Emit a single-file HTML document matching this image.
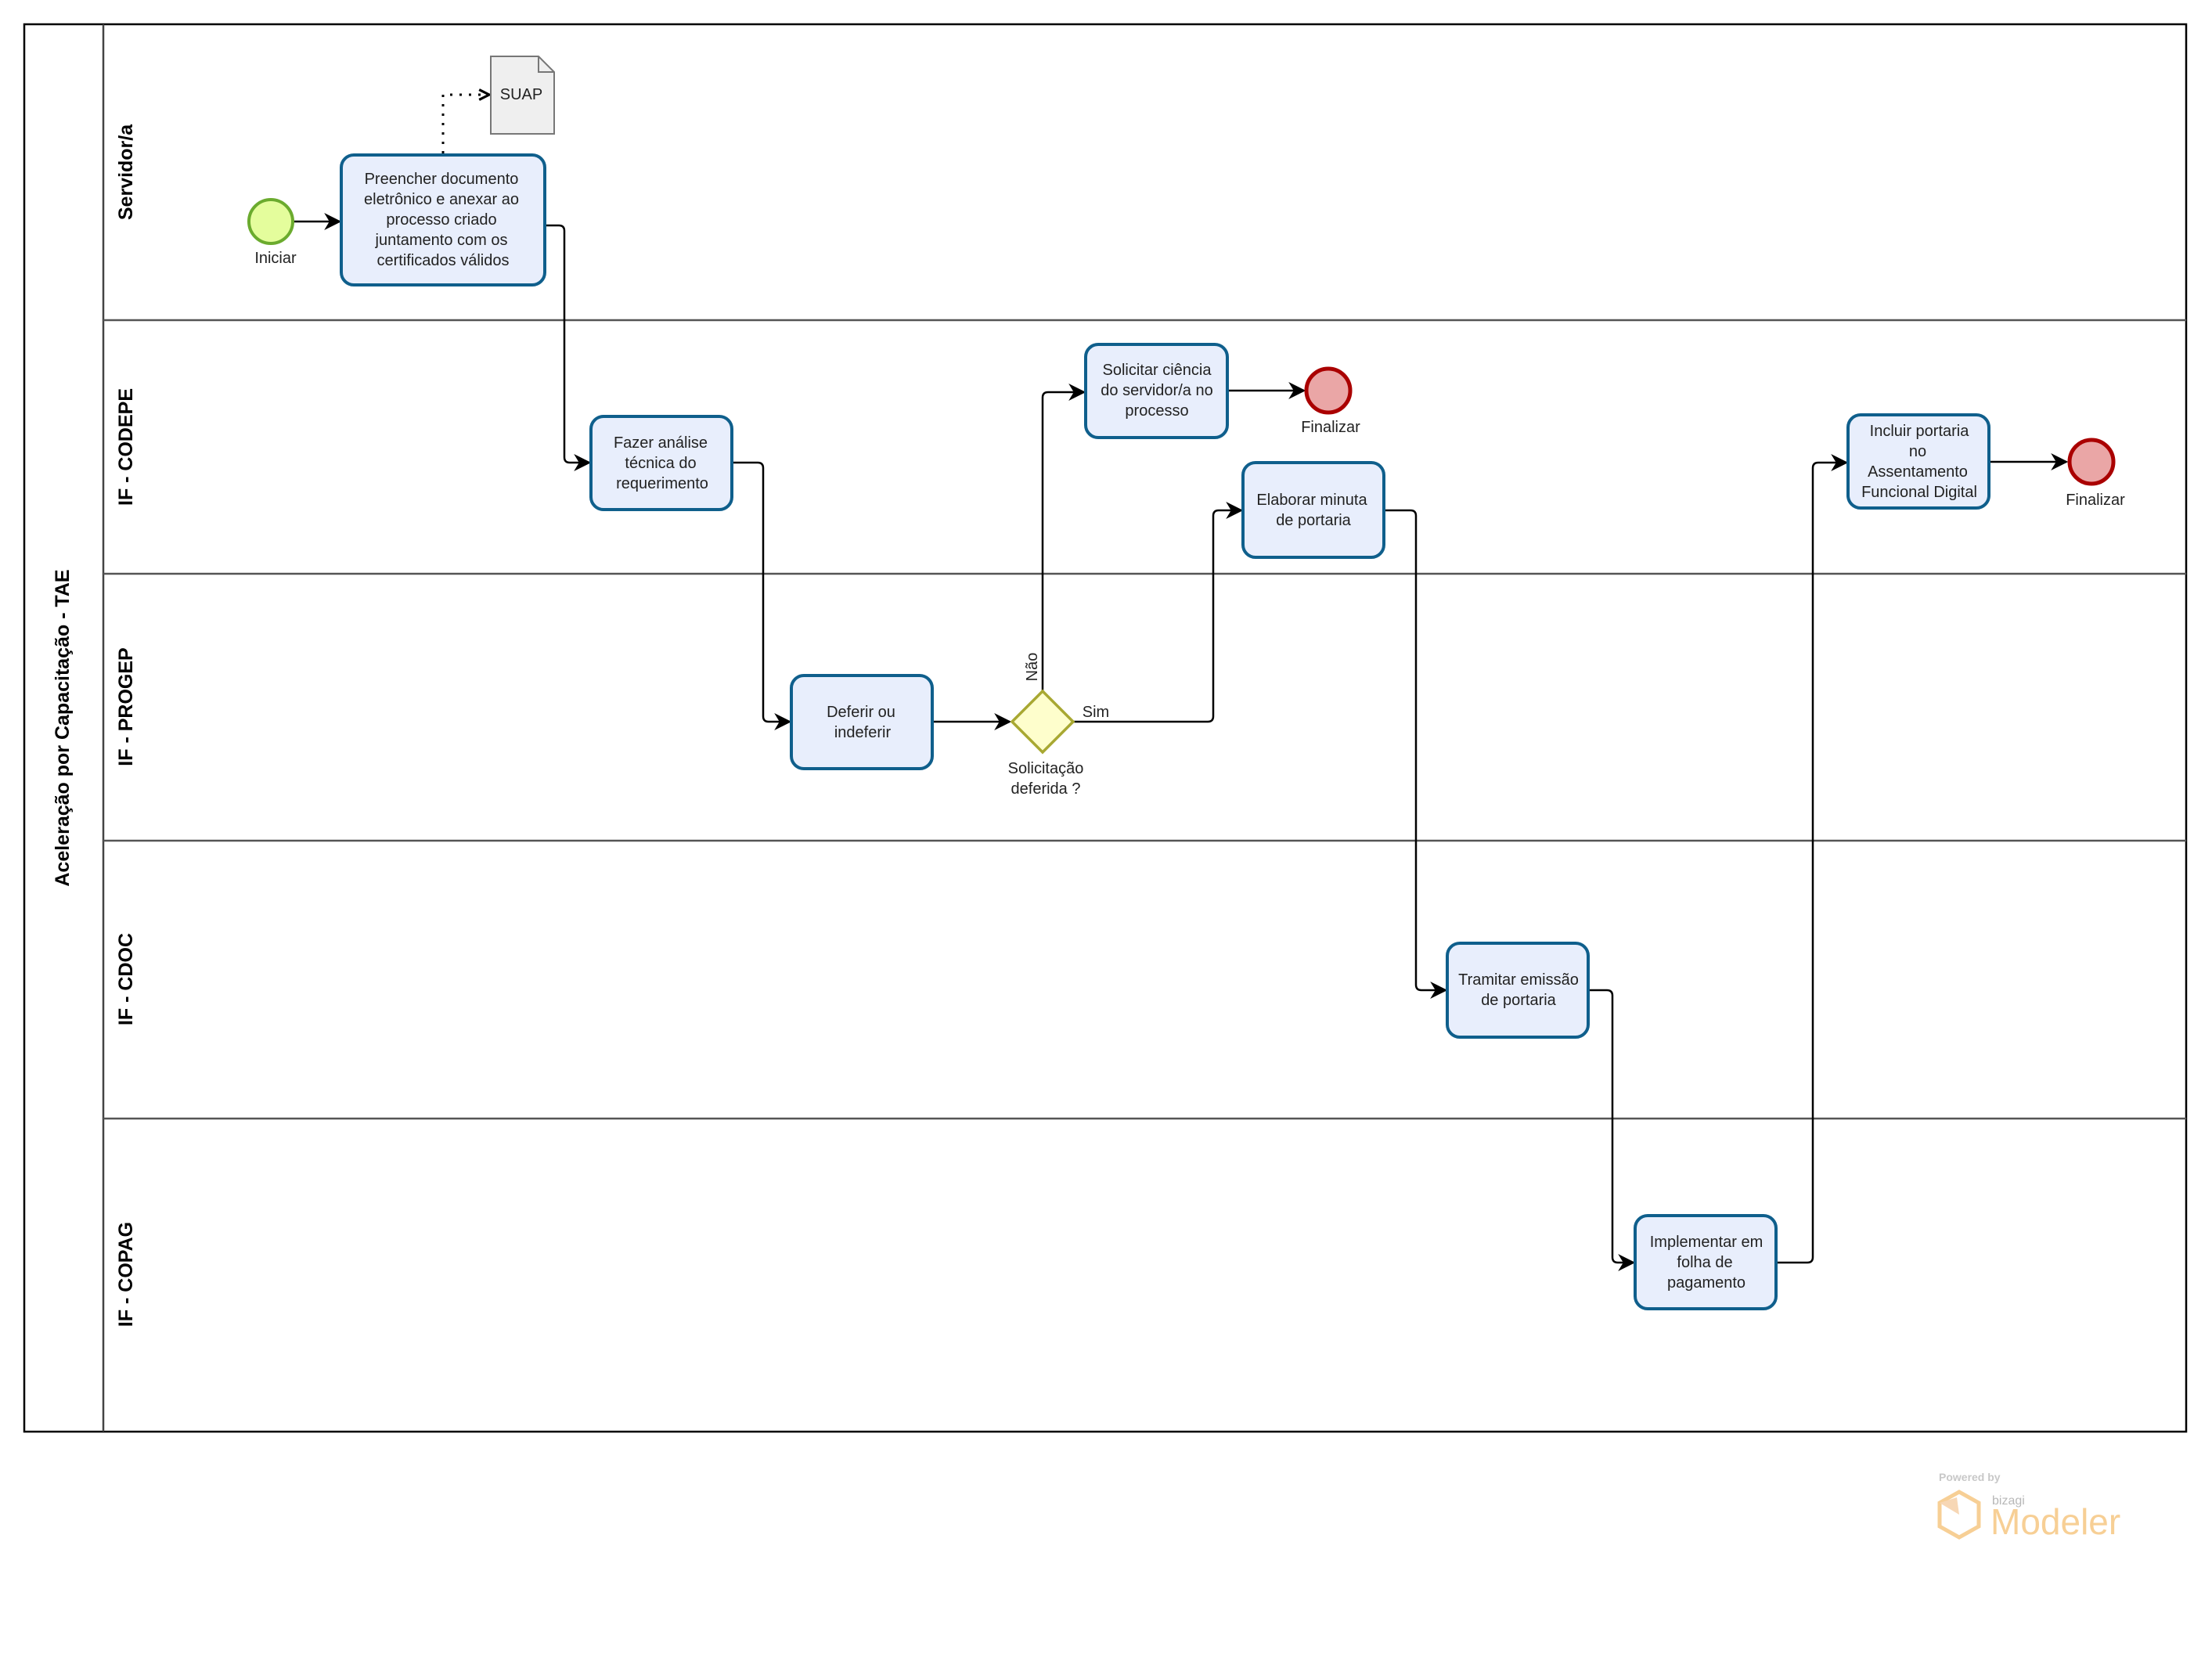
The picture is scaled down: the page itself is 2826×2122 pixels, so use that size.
<!DOCTYPE html>
<html><head><meta charset="utf-8"><style>
html,body{margin:0;padding:0;background:#fff}
svg{display:block}
text{font-family:"Liberation Sans",sans-serif}
.t{font-size:20px;fill:#222;text-anchor:middle}
.lane{font-size:25px;font-weight:bold;fill:#000;text-anchor:middle}
.box{fill:#e8eefc;stroke:#0f5f8c;stroke-width:4}
.c{fill:none;stroke:#000;stroke-width:2.5}
</style></head><body>
<svg width="2826" height="2122" viewBox="0 0 2826 2122" xmlns="http://www.w3.org/2000/svg">
<defs>
<marker id="ab" viewBox="0 0 10 10" refX="9" refY="5" markerWidth="22" markerHeight="22" markerUnits="userSpaceOnUse" orient="auto"><path d="M0,0 L10,5 L0,10 L3,5 z" fill="#000"/></marker>
<marker id="ao" viewBox="0 0 10 10" refX="9" refY="5" markerWidth="16" markerHeight="16" markerUnits="userSpaceOnUse" orient="auto"><path d="M1,1 L9,5 L1,9" fill="none" stroke="#000" stroke-width="2"/></marker>
</defs>
<rect x="31" y="31" width="2762" height="1798" fill="#fff" stroke="#000" stroke-width="2.5"/>
<line x1="132" y1="31" x2="132" y2="1829" stroke="#444" stroke-width="2.5"/>
<g stroke="#555" stroke-width="2.5">
<line x1="132" y1="409" x2="2793" y2="409"/>
<line x1="132" y1="733" x2="2793" y2="733"/>
<line x1="132" y1="1074" x2="2793" y2="1074"/>
<line x1="132" y1="1429" x2="2793" y2="1429"/>
</g>
<text class="lane" transform="translate(88,930) rotate(-90)">Aceleração por Capacitação - TAE</text>
<text class="lane" transform="translate(169,220) rotate(-90)">Servidor/a</text>
<text class="lane" transform="translate(169,571) rotate(-90)">IF - CODEPE</text>
<text class="lane" transform="translate(169,903) rotate(-90)">IF - PROGEP</text>
<text class="lane" transform="translate(169,1251) rotate(-90)">IF - CDOC</text>
<text class="lane" transform="translate(169,1628) rotate(-90)">IF - COPAG</text>

<path class="c" d="M375,283 L434,283" marker-end="url(#ab)"/>
<path d="M566,196 L566,121 L625,121" fill="none" stroke="#000" stroke-width="3" stroke-dasharray="3,9" marker-end="url(#ao)"/>
<path class="c" d="M696,288 L714,288 Q721,288 721,295 L721,584 Q721,591 728,591 L753,591" marker-end="url(#ab)"/>
<path class="c" d="M935,591 L968,591 Q975,591 975,598 L975,915 Q975,922 982,922 L1009,922" marker-end="url(#ab)"/>
<path class="c" d="M1191,922 L1290,922" marker-end="url(#ab)"/>
<path class="c" d="M1332,883 L1332,508 Q1332,501 1339,501 L1385,501" marker-end="url(#ab)"/>
<path class="c" d="M1568,499 L1666,499" marker-end="url(#ab)"/>
<path class="c" d="M1371,922 L1543,922 Q1550,922 1550,915 L1550,659 Q1550,652 1557,652 L1586,652" marker-end="url(#ab)"/>
<path class="c" d="M1768,652 L1802,652 Q1809,652 1809,659 L1809,1258 Q1809,1265 1816,1265 L1847,1265" marker-end="url(#ab)"/>
<path class="c" d="M2029,1265 L2053,1265 Q2060,1265 2060,1272 L2060,1606 Q2060,1613 2067,1613 L2087,1613" marker-end="url(#ab)"/>
<path class="c" d="M2269,1613 L2309,1613 Q2316,1613 2316,1606 L2316,598 Q2316,591 2323,591 L2359,591" marker-end="url(#ab)"/>
<path class="c" d="M2541,590 L2640,590" marker-end="url(#ab)"/>

<circle cx="346" cy="283" r="28" fill="#e4fd9c" stroke="#6bab2e" stroke-width="4"/>
<text class="t" x="352" y="336">Iniciar</text>
<circle cx="1697" cy="499" r="28" fill="#eaa6a6" stroke="#a00" stroke-width="5"/>
<text class="t" x="1700" y="552">Finalizar</text>
<circle cx="2672" cy="590" r="28" fill="#eaa6a6" stroke="#a00" stroke-width="5"/>
<text class="t" x="2677" y="645">Finalizar</text>

<path d="M627,72 L688,72 L708,92 L708,171 L627,171 Z" fill="#efefef" stroke="#777" stroke-width="2"/>
<path d="M688,72 L688,92 L708,92" fill="none" stroke="#777" stroke-width="2"/>
<text class="t" x="666" y="127">SUAP</text>

<rect class="box" x="436" y="198" width="260" height="166" rx="16"/>
<text class="t" x="564" y="235">Preencher documento</text>
<text class="t" x="564" y="261">eletrônico e anexar ao</text>
<text class="t" x="564" y="287">processo criado</text>
<text class="t" x="564" y="313">juntamento com os</text>
<text class="t" x="566" y="339">certificados válidos</text>

<rect class="box" x="755" y="532" width="180" height="119" rx="16"/>
<text class="t" x="844" y="572">Fazer análise</text>
<text class="t" x="844" y="598">técnica do</text>
<text class="t" x="846" y="624">requerimento</text>

<rect class="box" x="1011" y="863" width="180" height="119" rx="16"/>
<text class="t" x="1100" y="916">Deferir ou</text>
<text class="t" x="1102" y="942">indeferir</text>

<polygon points="1332,883 1371,922 1332,961 1293,922" fill="#fefecc" stroke="#a8a832" stroke-width="3.5"/>
<text class="t" x="1336" y="988">Solicitação</text>
<text class="t" x="1336" y="1014">deferida ?</text>
<text class="t" x="1400" y="916">Sim</text>
<text class="t" transform="translate(1325,852) rotate(-90)">Não</text>

<rect class="box" x="1387" y="440" width="181" height="119" rx="16"/>
<text class="t" x="1478" y="479">Solicitar ciência</text>
<text class="t" x="1478" y="505">do servidor/a no</text>
<text class="t" x="1478" y="531">processo</text>

<rect class="box" x="1588" y="591" width="180" height="121" rx="16"/>
<text class="t" x="1676" y="645">Elaborar minuta</text>
<text class="t" x="1678" y="671">de portaria</text>

<rect class="box" x="1849" y="1205" width="180" height="120" rx="16"/>
<text class="t" x="1940" y="1258">Tramitar emissão</text>
<text class="t" x="1940" y="1284">de portaria</text>

<rect class="box" x="2089" y="1553" width="180" height="119" rx="16"/>
<text class="t" x="2180" y="1593">Implementar em</text>
<text class="t" x="2178" y="1619">folha de</text>
<text class="t" x="2180" y="1645">pagamento</text>

<rect class="box" x="2361" y="530" width="180" height="119" rx="16"/>
<text class="t" x="2452" y="557">Incluir portaria</text>
<text class="t" x="2450" y="583">no</text>
<text class="t" x="2450" y="609">Assentamento</text>
<text class="t" x="2452" y="635">Funcional Digital</text>

<text x="2477" y="1892" style="font-size:14px;font-weight:bold;fill:#c8c8c8">Powered by</text>
<polygon points="2503,1906 2528,1920 2528,1950 2503,1964 2478,1950 2478,1920" fill="none" stroke="#f7cf95" stroke-width="5"/>
<polygon points="2478,1920 2500,1913 2503,1935" fill="#f7d7b5"/>
<text x="2545" y="1922" style="font-size:16px;fill:#b8b8b8">bizagi</text>
<text x="2543" y="1960" style="font-size:46px;fill:#f7cf95">Modeler</text>
</svg>
</body></html>
